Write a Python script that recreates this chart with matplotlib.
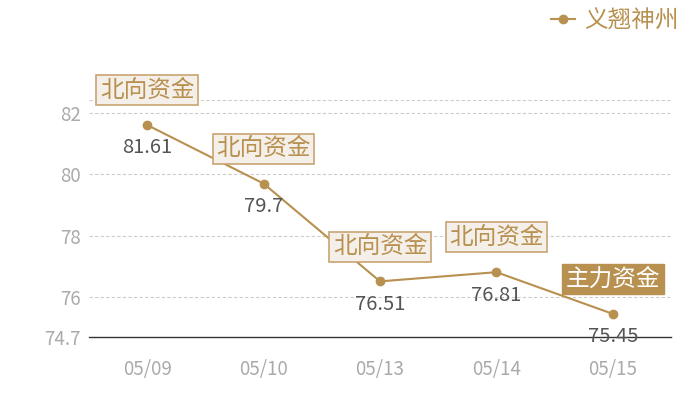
import matplotlib
matplotlib.use("Agg")
import matplotlib.pyplot as plt
import numpy as np

plt.rcParams['font.family'] = ['Noto Sans CJK SC', 'DejaVu Sans']

dates = ["05/09", "05/10", "05/13", "05/14", "05/15"]
values = [81.61, 79.7, 76.51, 76.81, 75.45]
tags = ["北向资金", "北向资金", "北向资金", "北向资金", "主力资金"]
series_name = "义翘神州"

GOLD = "#b8904f"
y_min = min(values) * 0.99
y_max = max(values) * 1.01

fig = plt.figure(figsize=(7, 4), dpi=100)
ax = fig.add_axes([89 / 700, 63 / 400, 582 / 700, 237 / 400])

x = np.arange(len(dates))
ax.plot(x, values, color=GOLD, lw=1.5, marker="o", ms=6, label=series_name)
ax.set_xlim(-0.5, len(dates) - 0.5)
ax.set_ylim(y_min, y_max)

yt = [y_min, 76, 78, 80, 82]
ax.set_yticks(yt)
ax.set_yticklabels(["74.7", "76", "78", "80", "82"])
ax.set_xticks(x)
ax.set_xticklabels(dates)
ax.tick_params(colors="#aaaaaa", labelsize=13.5, length=0)
ax.tick_params(axis="y", pad=6)
ax.tick_params(axis="x", pad=16)

for yv in [76, 78, 80, 82, y_max]:
    ax.axhline(yv, color="#cccccc", lw=0.8, ls=(0, (3, 2)), zorder=0)

for s in ["top", "right", "left"]:
    ax.spines[s].set_visible(False)
ax.spines["bottom"].set_color("#333333")
ax.spines["bottom"].set_linewidth(1)

for i, (v, t) in enumerate(zip(values, tags)):
    ax.annotate(f"{v:g}", (i, v), xytext=(0, -16.5), textcoords="offset points",
                ha="center", va="center", fontsize=14.5, color="#555555")
    if t == "主力资金":
        box = dict(boxstyle="square,pad=0.15", fc=GOLD, ec=GOLD)
        tc = "white"
    else:
        box = dict(boxstyle="square,pad=0.15", fc="#f4efe8", ec="#c9a472", lw=1.2)
        tc = GOLD
    ax.annotate(t, (i, v), xytext=(0, 25), textcoords="offset points",
                ha="center", va="center", fontsize=17, color=tc, bbox=box,
                zorder=5)

leg = fig.legend(loc="upper right", bbox_to_anchor=(1.0, 1.03), frameon=False,
                 fontsize=17, handlelength=1.0, handletextpad=0.4,
                 labelcolor=GOLD)

fig.savefig("out.png", dpi=100)
